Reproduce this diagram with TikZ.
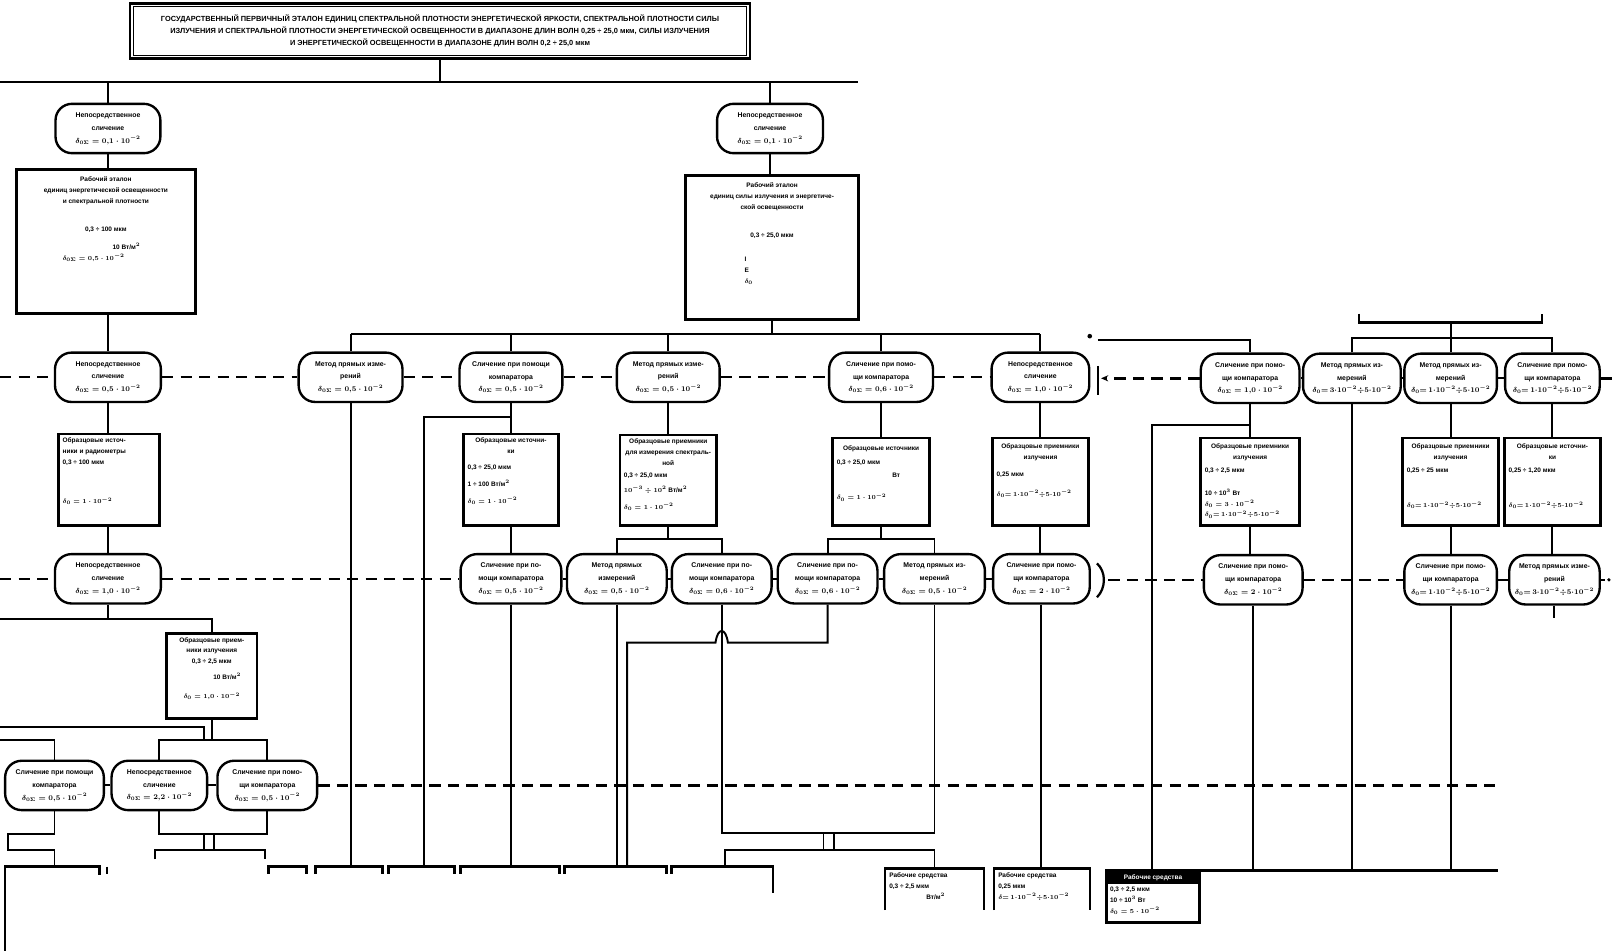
\documentclass[tikz,border=0pt]{standalone}
\usepackage{fontspec}
\setmainfont{Liberation Sans}
\usetikzlibrary{calc,arrows.meta}
\newcommand{\fsO}{\fontsize{6.7}{12.5}\selectfont\bfseries\boldmath}
\newcommand{\fsB}{\fontsize{6.3}{10.5}\selectfont\bfseries\boldmath}
\newcommand{\fsT}{\fontsize{7.2}{12}\selectfont\bfseries}
\newcommand{\dS}[1]{$\delta_{0\Sigma}=#1$}
\newcommand{\dN}[1]{$\delta_{0}=#1$}
\newcommand{\tp}[1]{10^{-#1}}
\newcommand{\rg}[2]{$\delta_{0}{=}\,#1{\cdot}10^{-2}{\div}#2{\cdot}10^{-2}$}
\begin{document}
\begin{tikzpicture}[x=1pt,y=-1pt,
  oval/.style={draw, line width=2.3pt, rounded corners=16pt, minimum height=48pt, inner sep=1pt, align=center, font=\fsO, fill=white},
  boxfr/.style={draw, line width=2.6pt, inner sep=0pt, fill=white},
  conn/.style={line width=1.9pt},
  fline/.style={line width=2.6pt},
  dline/.style={line width=2.3pt, dash pattern=on 11pt off 7pt},
  hdr/.style={inner sep=0pt, align=center, font=\fsB, anchor=north},
  val/.style={inner sep=0pt, align=left, font=\fsB, anchor=north west},
]
\fill[white] (0,0) rectangle (1568,925);
\useasboundingbox (0,0) rectangle (1568,925);

% ---------- title ----------
\node[boxfr, line width=2.8pt, minimum width=603pt, minimum height=54pt] (T) at (428,30) {};
\draw[line width=1.1pt] ($(T.north west)+(4.5,4.5)$) rectangle ($(T.south east)+(-4.5,-4.5)$);
\node[inner sep=0pt, align=center, font=\fsT] (Tt) at (T.center) {ГОСУДАРСТВЕННЫЙ ПЕРВИЧНЫЙ ЭТАЛОН ЕДИНИЦ СПЕКТРАЛЬНОЙ ПЛОТНОСТИ ЭНЕРГЕТИЧЕСКОЙ ЯРКОСТИ, СПЕКТРАЛЬНОЙ ПЛОТНОСТИ СИЛЫ\\
ИЗЛУЧЕНИЯ И СПЕКТРАЛЬНОЙ ПЛОТНОСТИ ЭНЕРГЕТИЧЕСКОЙ ОСВЕЩЕННОСТИ В ДИАПАЗОНЕ ДЛИН ВОЛН 0,25 ÷ 25,0 мкм, СИЛЫ ИЗЛУЧЕНИЯ\\
И ЭНЕРГЕТИЧЕСКОЙ ОСВЕЩЕННОСТИ В ДИАПАЗОНЕ ДЛИН ВОЛН 0,2 ÷ 25,0 мкм};

% ---------- left column ----------
\node[oval, minimum width=102pt] (A1) at (105,125) {Непосредственное\\сличение\\\dS{0{,}1\cdot\tp{2}}};
\node[boxfr, minimum width=174pt, minimum height=140pt] (A2) at (103,235) {};
\node[hdr] (A2h) at ($(A2.north)+(0,8)$) {Рабочий эталон\\единиц энергетической освещенности\\и спектральной плотности\\[17pt]0,3 ÷ 100 мкм\\[7pt]\hspace*{40pt}10 Вт/м$^2$\\\hspace*{-24pt}\dS{0{,}5\cdot\tp{2}}};
\node[oval, minimum width=103pt] (A3) at (105,367) {Непосредственное\\сличение\\\dS{0{,}5\cdot\tp{2}}};
\node[boxfr, minimum width=98pt, minimum height=89pt] (A4) at (106,466.5) {};
\node[val] (A4v) at ($(A4.north west)+(5,5)$) {Образцовые источ-\\ники и радиометры\\0,3 ÷ 100 мкм\\[28pt]\dN{1\cdot\tp{2}}};
\node[oval, minimum width=103pt] (A5) at (105,563) {Непосредственное\\сличение\\\dS{1{,}0\cdot\tp{2}}};
\node[boxfr, minimum width=88pt, minimum height=83pt] (A6) at (206,657.5) {};
\node[hdr] (A6h) at ($(A6.north)+(0,5)$) {Образцовые прием-\\ники излучения\\0,3 ÷ 2,5 мкм\\[5pt]\hspace*{30pt}10 Вт/м$^2$\\[8pt]\dN{1{,}0\cdot\tp{2}}};
\node[oval, minimum width=96pt] (C1) at (53,764) {Сличение при помощи\\компаратора\\\dS{0{,}5\cdot\tp{2}}};
\node[oval, minimum width=93pt] (C2) at (155,764) {Непосредственное\\сличение\\\dS{2{,}2\cdot\tp{2}}};
\node[oval, minimum width=97pt] (C3) at (260,764) {Сличение при помо-\\щи компаратора\\\dS{0{,}5\cdot\tp{2}}};

% ---------- right branch of the standard ----------
\node[oval, minimum width=103pt] (R1) at (749,125) {Непосредственное\\сличение\\\dS{0{,}1\cdot\tp{2}}};
\node[boxfr, minimum width=168pt, minimum height=140pt] (R2) at (751,241) {};
\node[hdr] (R2h) at ($(R2.north)+(0,8)$) {Рабочий эталон\\единиц силы излучения и энергетиче-\\ской освещенности\\[17pt]0,3 ÷ 25,0 мкм};
\node[val] (R2v) at (724,250) {I\\E\\$\delta_0$};

% ---------- first row of methods ----------
\node[oval, minimum width=101pt] (B1) at (341,367) {Метод прямых изме-\\рений\\\dS{0{,}5\cdot\tp{2}}};
\node[oval, minimum width=100pt] (B2) at (497,367) {Сличение при помощи\\компаратора\\\dS{0{,}5\cdot\tp{2}}};
\node[oval, minimum width=100pt] (B3) at (650,367) {Метод прямых изме-\\рений\\\dS{0{,}5\cdot\tp{2}}};
\node[oval, minimum width=101pt] (B4) at (857,367) {Сличение при помо-\\щи компаратора\\\dS{0{,}6\cdot\tp{2}}};
\node[oval, minimum width=95pt] (B5) at (1012,367) {Непосредственное\\сличение\\\dS{1{,}0\cdot\tp{2}}};
\node[oval, minimum width=96pt] (B6) at (1216,368) {Сличение при помо-\\щи компаратора\\\dS{1{,}0\cdot\tp{2}}};
\node[oval, minimum width=95pt] (B7) at (1315,368) {Метод прямых из-\\мерений\\\rg{3}{5}};
\node[oval, minimum width=90pt] (B8) at (1411,368) {Метод прямых из-\\мерений\\\rg{1}{5}};
\node[oval, minimum width=92pt] (B9) at (1510,368) {Сличение при помо-\\щи компаратора\\\rg{1}{5}};

% ---------- boxes of the middle row ----------
\node[boxfr, minimum width=92pt, minimum height=89pt] (D2) at (497,466.5) {};
\node[hdr] (D2h) at ($(D2.north)+(0,5)$) {Образцовые источни-\\ки};
\node[val] (D2v) at ($(D2.north west)+(5,31)$) {0,3 ÷ 25,0 мкм\\[6pt]1 ÷ 100 Вт/м$^2$\\[6pt]\dN{1\cdot\tp{2}}};
\node[boxfr, minimum width=94pt, minimum height=88pt] (D3) at (650,467) {};
\node[hdr] (D3h) at ($(D3.north)+(0,5)$) {Образцовые приемники\\для измерения спектраль-\\ной};
\node[val] (D3v) at ($(D3.north west)+(5,38)$) {0,3 ÷ 25,0 мкм\\[4pt]$10^{-3}\div10^{2}$ Вт/м$^2$\\[6pt]\dN{1\cdot\tp{2}}};
\node[boxfr, minimum width=94pt, minimum height=85pt] (D4) at (857,468.5) {};
\node[hdr] (D4h) at ($(D4.north)+(0,9)$) {Образцовые источники};
\node[val] (D4v) at ($(D4.north west)+(5,23)$) {0,3 ÷ 25,0 мкм\\[2pt]\hspace*{54pt}Вт\\[11pt]\dN{1\cdot\tp{2}}};
\node[boxfr, minimum width=93pt, minimum height=85pt] (D5) at (1012,468.5) {};
\node[hdr] (D5h) at ($(D5.north)+(0,7)$) {Образцовые приемники\\излучения};
\node[val] (D5v) at ($(D5.north west)+(5,34)$) {0,25 мкм\\[9pt]\rg{1}{5}};
\node[boxfr, minimum width=96pt, minimum height=85pt] (D6) at (1216,468.5) {};
\node[hdr] (D6h) at ($(D6.north)+(0,7)$) {Образцовые приемники\\излучения};
\node[val] (D6v) at ($(D6.north west)+(5,30)$) {0,3 ÷ 2,5 мкм\\[12pt]10 ÷ 10$^3$ Вт\\\dN{3\cdot\tp{2}}\\\rg{1}{5}};
\node[boxfr, minimum width=93pt, minimum height=85pt] (D8) at (1411,468.5) {};
\node[hdr] (D8h) at ($(D8.north)+(0,7)$) {Образцовые приемники\\излучения};
\node[val] (D8v) at ($(D8.north west)+(5,30)$) {0,25 ÷ 25 мкм\\[24pt]\rg{1}{5}};
\node[boxfr, minimum width=93pt, minimum height=85pt] (D9) at (1510,468.5) {};
\node[hdr] (D9h) at ($(D9.north)+(0,7)$) {Образцовые источни-\\ки};
\node[val] (D9v) at ($(D9.north west)+(5,30)$) {0,25 ÷ 1,20 мкм\\[24pt]\rg{1}{5}};

% ---------- second row of methods ----------
\node[oval, minimum width=98pt] (E1) at (497,563) {Сличение при по-\\мощи компаратора\\\dS{0{,}5\cdot\tp{2}}};
\node[oval, minimum width=97pt] (E2) at (600,563) {Метод прямых\\измерений\\\dS{0{,}5\cdot\tp{2}}};
\node[oval, minimum width=97pt] (E3) at (702,563) {Сличение при по-\\мощи компаратора\\\dS{0{,}6\cdot\tp{2}}};
\node[oval, minimum width=97pt] (E4) at (805,563) {Сличение при по-\\мощи компаратора\\\dS{0{,}6\cdot\tp{2}}};
\node[oval, minimum width=98pt] (E5) at (909,563) {Метод прямых из-\\мерений\\\dS{0{,}5\cdot\tp{2}}};
\node[oval, minimum width=94pt] (E6) at (1013,563) {Сличение при помо-\\щи компаратора\\\dS{2\cdot\tp{2}}};
\node[oval, minimum width=96pt] (E7) at (1219,564) {Сличение при помо-\\щи компаратора\\\dS{2\cdot\tp{2}}};
\node[oval, minimum width=90pt] (E8) at (1411,564) {Сличение при помо-\\щи компаратора\\\rg{1}{5}};
\node[oval, minimum width=88pt] (E9) at (1512,564) {Метод прямых изме-\\рений\\\rg{3}{5}};

% ---------- bottom boxes ----------
\node[minimum width=96pt, minimum height=40pt, inner sep=0pt] (H1) at (909,865) {};
\draw[fline] (H1.south west) -- (H1.north west) -- (H1.north east) -- (H1.south east);
\node[val] (H1v) at ($(H1.north west)+(4,4)$) {Рабочие средства\\0,3 ÷ 2,5 мкм\\\hspace*{36pt}Вт/м$^2$};
\node[minimum width=93pt, minimum height=40pt, inner sep=0pt] (H2) at (1013.5,865) {};
\draw[fline] (H2.south west) -- (H2.north west) -- (H2.north east) -- (H2.south east);
\node[val] (H2v) at ($(H2.north west)+(4,4)$) {Рабочие средства\\0,25 мкм\\$\delta{=}\,1{\cdot}\tp{2}{\div}5{\cdot}\tp{2}$};
\node[draw, line width=3pt, minimum width=91pt, minimum height=50pt, inner sep=0pt] (H3) at (1121.5,872) {};
\fill ($(H3.north west)+(2,2)$) rectangle ($(H3.north east)+(-2,14)$);
\node[inner sep=0pt, font=\fsB, text=white] (H3h) at ($(H3.north)+(0,8)$) {Рабочие средства};
\node[val] (H3v) at ($(H3.north west)+(5,17)$) {0,3 ÷ 2,5 мкм\\10 ÷ 10$^3$ Вт\\\dN{5\cdot\tp{2}}};
\draw[fline] (1167,897) -- (1167,847) -- (1457,847);
\coordinate (yB) at (0,843);
\coordinate (yH) at (0,847);
\draw[fline] (5,925) -- (5,843) -- (97,843) -- (97,851);
\draw[fline] (104,843) -- (104,850);
\foreach \a/\b in {261/298, 307/372, 378/442, 448/544, 549/648}
  \draw[fline] (\a,850) -- (\a,843) -- (\b,843) -- (\b,850);
\draw[fline] (653,850) -- (653,843) -- (752,843) -- (752,869);

% ---------- connectors: top ----------
\coordinate (b0l) at (0,80);
\coordinate (b0r) at (835,80);
\draw[conn] (b0l) -- (b0r);
\draw[conn] (T.south) -- (T.south |- b0l);
\draw[conn] (A1.north) -- (A1.north |- b0l);
\draw[conn] (R1.north) -- (R1.north |- b0l);
\draw[conn] (A1.south) -- (A1.south |- A2.north);
\draw[conn] (R1.south) -- (R1.south |- R2.north);
\draw[conn] (A3.north |- A2.south) -- (A3.north);
\draw[conn] (A3.south) -- (A3.south |- A4.north);
\draw[conn] (A5.north |- A4.south) -- (A5.north);
\coordinate (j2) at (0,602);
\draw[conn] (A5.south) -- (A5.south |- j2);
\draw[conn] (j2) -| (A6.north);
\coordinate (k1) at (206,720);
\draw[conn] (A6.south) -- (A6.south |- k1);
\draw[conn] (C2.north) |- (k1) -| (C3.north);
\coordinate (j3) at (0,707);
\draw[conn] (j3) -- (198,707) -- (198,720);
\coordinate (j5) at (0,720);
\draw[conn] (j5) -| (C1.north);
\draw[conn] (C1.east) -- (C2.west);
\draw[conn] (C2.east) -- (C3.west);
\coordinate (dCe) at (1455,764);
\draw[dline] (C3.east) -- (dCe);
\draw[conn] (C1.south) -- (53,811) -- (8,811) -- (8,827) -- (53,827) -- (53,843);
\draw[conn] (C2.south) |- (208,811) -| (C3.south);
\draw[conn] (198,811) -- (198,827);
\draw[conn] (208,811) -- (208,827);
\draw[conn] (151,836) -- (151,827) -- (258,827) -- (258,836);

% ---------- connectors: first bus ----------
\coordinate (b1l) at (341,325);
\draw[conn] (B1.north |- b1l) -- (B5.north |- b1l);
\draw[conn] (R2.south) -- (R2.south |- b1l);
\foreach \n in {B1,B2,B3,B4,B5} \draw[conn] (\n.north) -- (\n.north |- b1l);
\node[circle, fill, inner sep=0pt, minimum size=4.5pt] (dt1) at (1060,327) {};
\coordinate (q1) at (1068,331);
\draw[conn] (q1) -| (B6.north);
\draw[fline] (1322,305) -- (1322,314) -- (1500,314) -- (1500,305);
\coordinate (tr) at (1411,314);
\coordinate (b2) at (1411,329);
\draw[conn] (tr) -- (b2);
\draw[conn] (B7.north) |- (b2) -| (B9.north);
\draw[conn] (B8.north) -- (B8.north |- b2);

% ---------- connectors: B to D ----------
\draw[conn] (B1.south) -- (B1.south |- yB);
\draw[conn] (B2.south) -- (D2.north);
\coordinate (p2) at (412,406);
\draw[conn] (B2.south |- p2) -- (p2) -- (p2 |- yB);
\draw[conn] (B3.south) -- (D3.north);
\draw[conn] (B4.south) -- (D4.north);
\draw[conn] (B5.south) -- (D5.north);
\draw[conn] (B6.south) -- (D6.north);
\coordinate (p6) at (1121,413);
\draw[conn] (B6.south |- p6) -- (p6) -- (p6 |- H3.north);
\draw[conn] (B7.south) -- (B7.south |- yH);
\draw[conn] (B8.south) -- (D8.north);
\draw[conn] (B9.south) -- (D9.north);
\foreach \a/\b in {B6/B7,B7/B8,B8/B9} \draw[conn] (\a.east) -- (\b.west);

% ---------- connectors: D to E ----------
\draw[conn] (D2.south) -- (E1.north);
\coordinate (t3) at (650,524);
\draw[conn] (D3.south) -- (t3);
\draw[conn] (E2.north) |- (t3) -| (E3.north);
\coordinate (t4) at (857,524);
\draw[conn] (D4.south) -- (t4);
\draw[conn] (E4.north) |- (t4) -| (E5.north);
\draw[conn] (D5.south) -- (D5.south |- E6.north);
\draw[conn] (D6.south) -- (D6.south |- E7.north);
\draw[conn] (D8.south) -- (E8.north);
\draw[conn] (D9.south) -- (D9.south |- E9.north);
\foreach \a/\b in {E1/E2,E2/E3,E3/E4,E4/E5,E5/E6,E8/E9} \draw[conn] (\a.east) -- (\b.west);

% ---------- dashed lines ----------
\coordinate (dl1) at (0,367);
\draw[dline] (dl1) -- (A3.west);
\foreach \a/\b in {A3/B1,B1/B2,B2/B3,B3/B4,B4/B5} \draw[dline] (\a.east) -- (\b.west);
\coordinate (br1t) at (1068,356);
\coordinate (br1b) at (1068,384);
\draw[line width=2.2pt] (br1t) -- (br1b);
\draw[dline, -{Stealth[length=7pt,width=6pt]}] (B6.west) -- (1071,368);
\coordinate (dr1) at (1568,368);
\draw[dline] (B9.east) -- (dr1);
\coordinate (dl2) at (0,563);
\draw[dline] (dl2) -- (A5.west);
\draw[dline] (A5.east) -- (E1.west);
\draw[line width=2.2pt] (1067,548) .. controls (1076,556) and (1076,572) .. (1067,581);
\coordinate (br2) at (1078,564);
\draw[dline] (br2) -- (E7.west);
\draw[dline] (E7.east) -- (E8.west);
\coordinate (dr2) at (1561,564);
\draw[dline] (E9.east) -- (dr2);
\node[circle, fill, inner sep=0pt, minimum size=3.5pt] (dt2) at (1565,564) {};

% ---------- connectors: E to bottom ----------
\draw[conn] (E1.south) -- (E1.south |- yB);
\draw[conn] (E2.south) -- (E2.south |- yB);
\draw[conn] (E4.south) -- (805,625) -- (708,625) .. controls (706,610) and (698,610) .. (696,625) -- (610,625) -- (610,843);
\coordinate (u1) at (806,810);
\draw[conn] (E3.south) |- (u1) -| (E5.south);
\draw[conn] (801,810) -- (801,827);
\draw[conn] (811,810) -- (811,827);
\draw[conn] (705,843) -- (705,827) -| (H1.north);
\draw[conn] (E6.south) -- (E6.south |- H2.north);
\draw[conn] (E7.south) -- (E7.south |- yH);
\draw[conn] (E8.south) -- (E8.south |- yH);
\draw[conn] (E9.south) -- ++(0,12);
\end{tikzpicture}
\end{document}
